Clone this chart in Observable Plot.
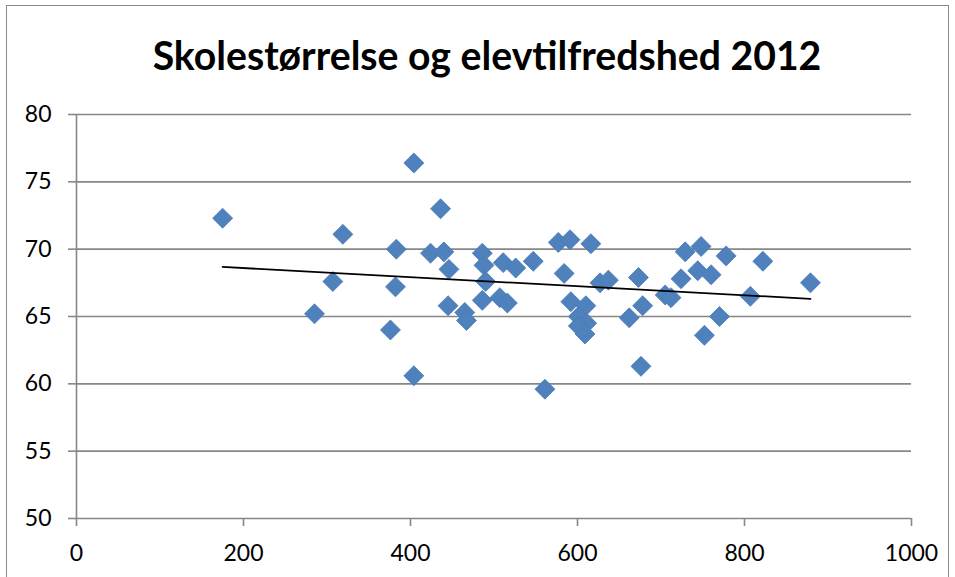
<!DOCTYPE html>
<html>
<head>
<meta charset="utf-8">
<script src="https://cdn.jsdelivr.net/npm/d3@7"></script>
<script src="https://cdn.jsdelivr.net/npm/@observablehq/plot@0.6"></script>
<style>
  html, body { margin: 0; padding: 0; background: #fff; }
  #wrap { position: relative; width: 955px; height: 577px; overflow: hidden; background: #fff; }
  #frame { position: absolute; left: 6px; top: 5px; width: 943px; height: 620px; border: 1px solid #8a8a8a; box-sizing: border-box; }
  #title { position: absolute; left: 0; top: 0; white-space: nowrap; font-family: Lato, "Open Sans", sans-serif; font-weight: 700; font-size: 37px; color: #000; line-height: 1; }
  #chart { position: absolute; left: 0; top: 100px; }
</style>
</head>
<body>
<div id="wrap">
  <div id="frame"></div>
  <div id="title">Skolestørrelse og elevtilfredshed 2012</div>
  <div id="chart"></div>
</div>
<script>
// School size (number of pupils)
const skolestorrelse = [
  175, 404, 436, 319, 383, 424, 440, 307, 382, 285,
  376, 404, 446, 445, 465, 467, 486, 488, 490, 486,
  511, 507, 516, 526, 547, 561, 577, 591, 616, 584,
  627, 637, 673, 705, 712, 724, 729, 748, 778, 744,
  760, 822, 879, 807, 770, 752, 592, 610, 601, 611,
  601, 609, 662, 678, 676
];
// Pupil satisfaction
const elevtilfredshed = [
  72.3, 76.4, 73.0, 71.1, 70.0, 69.7, 69.8, 67.6, 67.2, 65.2,
  64.0, 60.6, 68.5, 65.8, 65.3, 64.7, 69.7, 68.8, 67.6, 66.2,
  69.0, 66.4, 66.0, 68.6, 69.1, 59.6, 70.5, 70.7, 70.4, 68.2,
  67.5, 67.7, 67.9, 66.6, 66.4, 67.8, 69.8, 70.2, 69.5, 68.4,
  68.1, 69.1, 67.5, 66.5, 65.0, 63.6, 66.1, 65.8, 65.0, 64.5,
  64.3, 63.7, 64.9, 65.8, 61.3
];
const xTicks = [0, 200, 400, 600, 800, 1000];
const yTicks = [50, 55, 60, 65, 70, 75, 80];

const data = skolestorrelse.map((x, i) => ({x, y: elevtilfredshed[i]}));

const gridColor = "#878787";
const chart = Plot.plot({
  width: 955,
  height: 477,
  marginLeft: 76,
  marginRight: 44,
  marginTop: 14,
  marginBottom: 59,
  style: {fontFamily: "Lato, 'Open Sans', sans-serif", fontSize: "23px", color: "#000", background: "transparent"},
  x: {domain: [0, 1000], ticks: xTicks, label: null},
  y: {domain: [50, 80], ticks: yTicks, label: null},
  marks: [
    Plot.gridY(yTicks.filter(d => d > 50), {stroke: gridColor, strokeOpacity: 1, strokeWidth: 1.6}),
    Plot.ruleY([50], {stroke: gridColor, strokeWidth: 1.6}),
    Plot.ruleX([0], {stroke: gridColor, strokeWidth: 1.6}),
    Plot.axisX(xTicks, {tickSize: 8, tickPadding: 18, tickFormat: d => String(d), stroke: gridColor, strokeWidth: 1.6, fill: "#000", fontSize: 23, label: null}),
    Plot.axisY(yTicks, {tickSize: 8, tickPadding: 17, tickFormat: d => String(d), stroke: gridColor, strokeWidth: 1.6, fill: "#000", fontSize: 23, label: null}),
    Plot.dot(data, {x: "x", y: "y", symbol: "diamond2", r: 9, fill: "#4F81BD", stroke: "#4a7ab5", strokeWidth: 0.8}),
    Plot.linearRegressionY(data, {x: "x", y: "y", stroke: "#000", strokeWidth: 1.8, ci: 0})
  ]
});
document.getElementById("chart").appendChild(chart);

// Fit title to the reference box: left 152, right 822, baseline ~70
const t = document.getElementById("title");
const targetW = 669;
let r = t.getBoundingClientRect();
const fs = 37 * targetW / r.width;
t.style.fontSize = fs + "px";
r = t.getBoundingClientRect();
t.style.left = (487 - r.width / 2) + "px";
const probe = document.createElement("span");
probe.style.cssText = "display:inline-block;width:1px;height:0;vertical-align:baseline;";
t.appendChild(probe);
const baseY = probe.getBoundingClientRect().top - t.getBoundingClientRect().top;
t.style.top = (70 - baseY) + "px";
</script>
</body>
</html>
